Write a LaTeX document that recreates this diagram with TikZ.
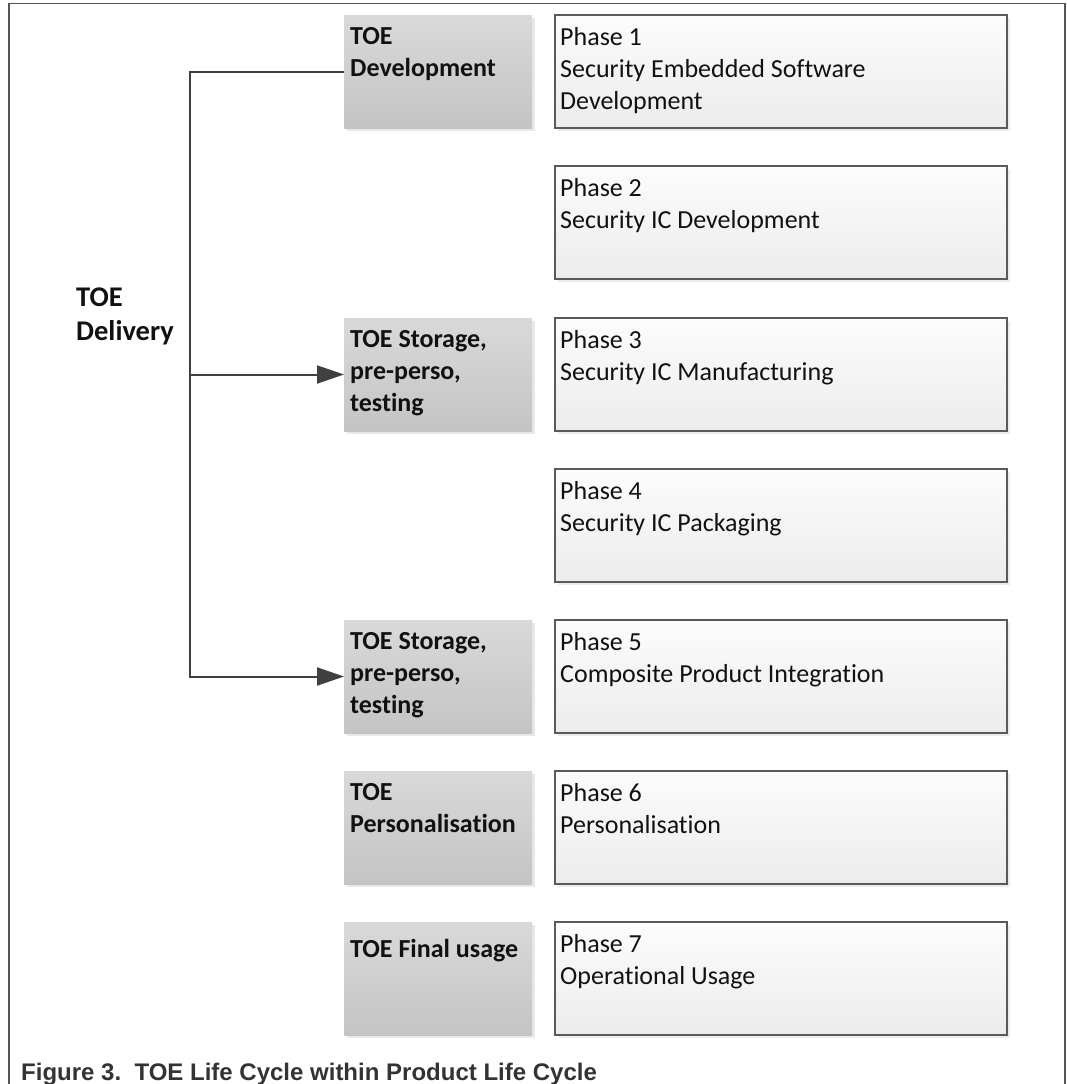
\documentclass[tikz,border=0pt]{standalone}
\usepackage{fontspec}
\setmainfont{Carlito}[Ligatures=NoCommon]
\newfontfamily\capfont{Liberation Sans}
\usetikzlibrary{arrows.meta,shadows}
\definecolor{gtop}{HTML}{D9D9D9}
\definecolor{gbot}{HTML}{C4C4C4}
\definecolor{ptop}{HTML}{FCFCFC}
\definecolor{pbot}{HTML}{ECECEC}
\definecolor{pborder}{HTML}{5A5A5A}
\definecolor{lncol}{HTML}{404040}
\definecolor{framecol}{HTML}{555555}
\definecolor{capcol}{HTML}{333333}
\definecolor{txtcol}{HTML}{111111}
\begin{document}
\begin{tikzpicture}[x=1pt,y=-1pt,
  graybox/.style={anchor=north west, minimum width=188pt, minimum height=113pt,
    inner sep=0pt, outer sep=0pt, top color=gtop, bottom color=gbot,
    drop shadow={shadow xshift=3pt, shadow yshift=-3pt, opacity=0.18}},
  phasebox/.style={anchor=north west, minimum width=452pt, minimum height=113pt,
    inner sep=0pt, outer sep=0pt, top color=ptop, bottom color=pbot,
    draw=pborder, line width=1.5pt,
    drop shadow={shadow xshift=3pt, shadow yshift=-3pt, opacity=0.15}},
  ptext/.style={anchor=north west, align=left, inner sep=0pt, text=txtcol,
    font=\fontsize{26}{32}\selectfont, execute at begin node=\strut},
  ttext/.style={anchor=north west, align=left, inner sep=0pt, text=txtcol,
    font=\fontsize{26}{32}\selectfont\bfseries, execute at begin node=\strut},
  conn/.style={draw=lncol, line width=2pt, line join=miter},
  tip/.style={-{Triangle[length=27pt,width=18pt]}}
]
\useasboundingbox (0,0) rectangle (1066,1084);
% frame
\draw[framecol, line width=1.5pt] (9,1084) -- (9,3.5) -- (1065,3.5) -- (1065,1084);

% gray boxes
\node[graybox] (g1) at (344,15) {};
\node[graybox] (g3) at (344,318) {};
\node[graybox] (g5) at (344,620) {};
\node[graybox] (g6) at (344,771) {};
\node[graybox] (g7) at (344,922) {};

% phase boxes
\node[phasebox] (p1) at (555,15) {};
\node[phasebox] (p2) at (555,166) {};
\node[phasebox] (p3) at (555,318) {};
\node[phasebox] (p4) at (555,469) {};
\node[phasebox] (p5) at (555,620) {};
\node[phasebox] (p6) at (555,771) {};
\node[phasebox] (p7) at (555,922) {};

% gray box texts
\node[ttext] (g1t) at (350,27.6) {TOE\\Development};
\node[ttext] (g3t) at (350,330.6) {TOE Storage,\\pre-perso,\\testing};
\node[ttext] (g5t) at (350,632.6) {TOE Storage,\\pre-perso,\\testing};
\node[ttext] (g6t) at (350,783.6) {TOE\\Personalisation};
\node[ttext] (g7t) at (350,934.6) {TOE Final usage};

% phase texts
\node[ptext] (p1t) at (560,27.6) {Phase 1\\Security Embedded Software\\Development};
\node[ptext] (p2t) at (560,178.6) {Phase 2\\Security IC Development};
\node[ptext] (p3t) at (560,330.6) {Phase 3\\Security IC Manufacturing};
\node[ptext] (p4t) at (560,481.6) {Phase 4\\Security IC Packaging};
\node[ptext] (p5t) at (560,632.6) {Phase 5\\Composite Product Integration};
\node[ptext] (p6t) at (560,783.6) {Phase 6\\Personalisation};
\node[ptext] (p7t) at (560,934.6) {Phase 7\\Operational Usage};

% TOE Delivery
\node[ttext, font=\fontsize{28.5}{34}\selectfont\bfseries] (del) at (76,287.2) {TOE\\Delivery};

% connectors
\coordinate (tr) at (190,0);
\draw[conn, tip] (g1.west) -- (g1.west -| tr) |- (g5.west);
\draw[conn, tip] (g3.west -| tr) -- (g3.west);

% caption
\node[anchor=base west, inner sep=0pt, text=capcol,
  font=\capfont\bfseries\fontsize{24}{28}\selectfont] (cap) at (21,1080)
  {Figure 3.\ \ TOE Life Cycle within Product Life Cycle};
\end{tikzpicture}
\end{document}
